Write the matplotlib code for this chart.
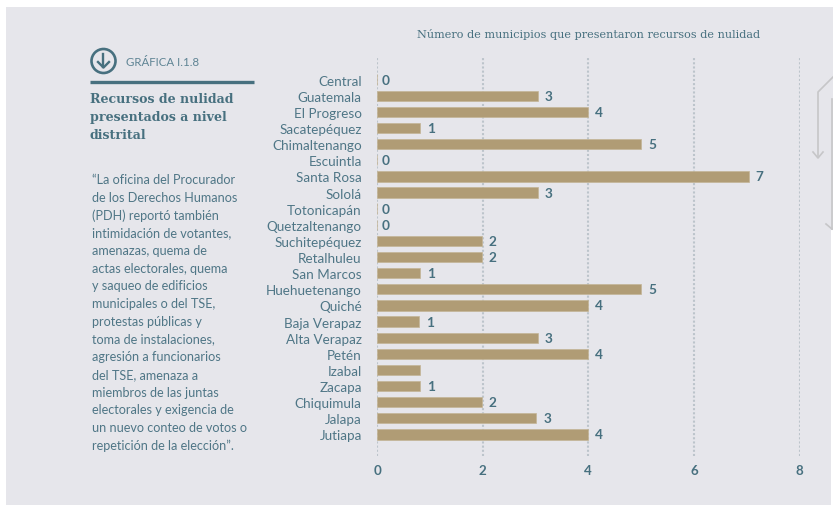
# Horizontal bars of municipalities with nullity appeals, per department

import matplotlib.pyplot as plt
from matplotlib.patches import Circle, Rectangle

WIDTH = 833
HEIGHT = 506
PANEL = '#e6e6eb'
BAR = '#b09c75'
TEAL = '#47707f'
TEXT = '#4f7686'
GRID = '#bcc4cb'
ARROW = '#c6c6c8'

departments = ['Central', 'Guatemala', 'El Progreso', 'Sacatepéquez', 'Chimaltenango',
               'Escuintla', 'Santa Rosa', 'Sololá', 'Totonicapán', 'Quetzaltenango',
               'Suchitepéquez', 'Retalhuleu', 'San Marcos', 'Huehuetenango', 'Quiché',
               'Baja Verapaz', 'Alta Verapaz', 'Petén', 'Izabal', 'Zacapa',
               'Chiquimula', 'Jalapa', 'Jutiapa']
# Bar lengths as drawn in the picture, they differ a little from the printed labels
bar_lengths = [0, 3.04, 4.0, 0.82, 5.0, 0, 7.04, 3.04, 0, 0, 1.98, 1.98, 0.82, 5.0, 4.0,
               0.8, 3.04, 4.0, 0.82, 0.82, 1.98, 3.02, 4.0]
bar_labels = ['0', '3', '4', '1', '5', '0', '7', '3', '0', '0', '2', '2', '1', '5', '4',
              '1', '3', '4', '', '1', '2', '3', '4']
x_ticks = [0, 2, 4, 6, 8]

quote_lines = ['“La oficina del Procurador', 'de los Derechos Humanos', '(PDH) reportó también',
               'intimidación de votantes,', 'amenazas, quema de', 'actas electorales, quema',
               'y saqueo de edificios', 'municipales o del TSE,', 'protestas públicas y',
               'toma de instalaciones,', 'agresión a funcionarios', 'del TSE, amenaza a',
               'miembros de las juntas', 'electorales y exigencia de', 'un nuevo conteo de votos o',
               'repetición de la elección”.']
title_lines = ['Recursos de nulidad', 'presentados a nivel', 'distrital']

plt.rcParams['font.family'] = ['Lato', 'DejaVu Sans']

fig = plt.figure(figsize=(WIDTH / 100, HEIGHT / 100), dpi=100, facecolor='white')

# Overlay in pixel coordinates for the panel and the side column
page = fig.add_axes([0, 0, 1, 1], zorder=0)
page.set_xlim(0, WIDTH)
page.set_ylim(HEIGHT, 0)
page.set_axis_off()
page.add_patch(Rectangle((6, 8), WIDTH, HEIGHT, color=PANEL, lw=0))
page.add_patch(Rectangle((831, 231), 2, HEIGHT, color='white', lw=0))

# Icon
page.add_patch(Circle((103.5, 62), 12, fill=False, ec=TEAL, lw=1.9))
page.plot([103.5, 103.5], [55, 68], color=TEAL, lw=1.7)
page.plot([98, 103.5, 109], [63, 68.5, 63], color=TEAL, lw=1.7)
page.text(126, 62.5, 'GRÁFICA I.1.8', color='#5f8494', fontsize=8.3, va='center')
page.plot([90, 254], [82.5, 82.5], color=TEAL, lw=2.4, solid_capstyle='butt')

for i, line in enumerate(title_lines):
    page.text(90, 99 + i * 18, line, color=TEAL, fontsize=9.1, va='center',
              family='DejaVu Serif', fontweight='bold')
for i, line in enumerate(quote_lines):
    page.text(92, 180 + i * 17.73, line, color=TEXT, fontsize=9.1, va='center')

page.text(588.5, 34.5, 'Número de municipios que presentaron recursos de nulidad',
          color=TEAL, fontsize=8.1, va='center', ha='center', family='DejaVu Serif')

# Arrows cut by the right edge
page.plot([833, 818, 818], [78, 93, 157], color=ARROW, lw=1.2)
page.plot([813, 818, 823], [153, 159, 153], color=ARROW, lw=1.2)
page.plot([832, 832], [100, 230], color=ARROW, lw=1.2)
page.plot([826, 832], [225, 230], color=ARROW, lw=1.2)

# Chart axes sit on the gridline extents
left, right, top, bottom = 377, 799.5, 58, 457
first_row, row_step = 80.6, 16.13
ax = fig.add_axes([left / WIDTH, 1 - bottom / HEIGHT, (right - left) / WIDTH, (bottom - top) / HEIGHT],
                  zorder=1)
ax.patch.set_visible(False)
rows = list(range(len(departments)))
ax.set_xlim(0, 8)
ax.set_ylim((bottom - first_row) / row_step, (top - first_row) / row_step)
for spine in ax.spines.values():
    spine.set_visible(False)

ax.set_axisbelow(True)
ax.grid(axis='x', color=GRID, lw=1.5, ls=(0, (1, 1)))
ax.barh(rows, bar_lengths, height=0.64, color=BAR, edgecolor='#c4b597', linewidth=0.5, zorder=2)

ax.set_yticks(rows, departments)
ax.set_xticks(x_ticks, [str(t) for t in x_ticks])
ax.tick_params(axis='y', length=0, pad=11, labelsize=9.7, labelcolor=TEXT)
ax.tick_params(axis='x', length=0, pad=6, labelsize=9.6, labelcolor=TEAL)
for tick in ax.get_xticklabels():
    tick.set_fontweight('bold')

for row, length, label in zip(rows, bar_lengths, bar_labels):
    ax.annotate(label, (length, row), xytext=(5 if length else 3, 0), textcoords='offset points',
                color=TEAL, fontsize=9.8, fontweight='bold', va='center', ha='left')

fig.savefig('out.png', dpi=100)
